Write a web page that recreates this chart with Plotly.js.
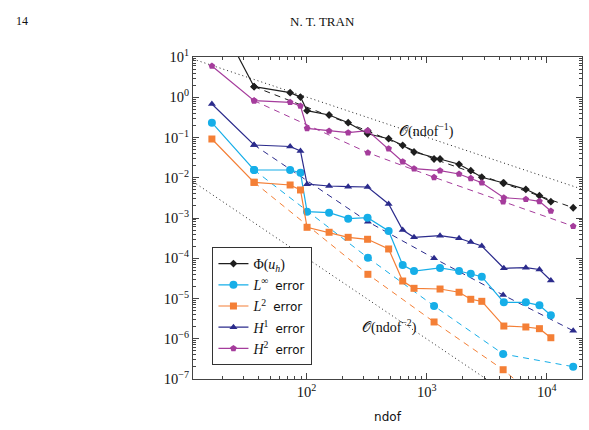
<!DOCTYPE html>
<html>
<head>
<meta charset="utf-8">
<script src="https://cdn.plot.ly/plotly-3.0.1.min.js"></script>
<style>
  html, body { margin: 0; padding: 0; background: #fff; }
  #chart { width: 589px; height: 430px; }
</style>
</head>
<body>
<div id="chart"></div>
<script>
// Adaptive refinement: degrees of freedom and error quantities
const ndofAdaptive = [16.3, 36.6, 73, 89, 101, 154, 222, 322, 482, 631, 784, 1291, 1858, 2326, 2873, 4383, 6683, 8670, 10790];
const phiAdaptive  = [180, 1.83, 1.30, 1.01, 0.463, 0.362, 0.233, 0.124, 0.0933, 0.064, 0.0436, 0.0292, 0.0216, 0.0150, 0.0103, 0.00741, 0.00516, 0.00358, 0.00254];
const linfAdaptive = [0.233, 0.0156, 0.0156, 0.0134, 0.00144, 0.00136, 0.000962, 0.00102, 0.000475, 6.79e-5, 4.82e-5, 5.73e-5, 4.82e-5, 4.13e-5, 3.48e-5, 8.05e-6, 8.05e-6, 6.78e-6, 3.83e-6];
const l2Adaptive   = [0.0918, 0.00771, 0.00661, 0.00497, 0.000587, 0.000442, 0.000331, 0.000296, 0.000170, 2.72e-5, 1.79e-5, 1.72e-5, 1.43e-5, 9.55e-6, 8.51e-6, 2.07e-6, 1.96e-6, 1.78e-6, 1.06e-6];
const h1Adaptive   = [0.679, 0.0652, 0.0597, 0.0462, 0.00692, 0.00624, 0.00600, 0.00589, 0.00223, 0.000504, 0.000331, 0.000363, 0.000313, 0.000254, 0.000202, 5.63e-5, 5.82e-5, 5.25e-5, 2.80e-5];
const h2Adaptive   = [5.97, 0.821, 0.750, 0.607, 0.169, 0.145, 0.132, 0.148, 0.0527, 0.0251, 0.0168, 0.0150, 0.0124, 0.00969, 0.00753, 0.00319, 0.00292, 0.00260, 0.00149];

// Uniform refinement
const ndofUniform = [36.6, 324, 1151, 4325, 16560];
const phiUniform  = [1.83, 0.145, 0.0292, 0.0074, 0.0018];
const linfUniform = [0.0156, 1.03e-4, 6.52e-6, 4.18e-7, 2.02e-7];
const l2Uniform   = [0.00771, 3.99e-5, 2.61e-6, 1.70e-7, 6e-9];
const h1Uniform   = [0.0652, 8.09e-4, 9.97e-5, 1.22e-5, 1.58e-6];
const h2Uniform   = [0.821, 0.0419, 0.01026, 0.00254, 6.25e-4];

// Reference slopes O(ndof^-1) and O(ndof^-2)
const refNdof   = [11.35, 19600];
const refOrder1 = [8.9, 0.0052];
const refOrder2 = [0.0080, 2.5e-9];

// Axis ticks
const xTickVals = [100, 1000, 10000];
const xTickText = ['10<sup>2</sup>', '10<sup>3</sup>', '10<sup>4</sup>'];
const yTickVals = [10, 1, 0.1, 0.01, 1e-3, 1e-4, 1e-5, 1e-6, 1e-7];
const yTickText = ['10<sup>1</sup>', '10<sup>0</sup>', '10<sup>−1</sup>', '10<sup>−2</sup>', '10<sup>−3</sup>',
                   '10<sup>−4</sup>', '10<sup>−5</sup>', '10<sup>−6</sup>', '10<sup>−7</sup>'];

const serif = 'Liberation Serif, DejaVu Serif, serif';
const sans = 'DejaVu Sans, Liberation Sans, sans-serif';

const colors = {
  phi: '#1e1e1e',
  linf: '#16aee8',
  l2: '#f47f36',
  h1: '#2b2b8c',
  h2: '#a53c9c'
};

function minorTicks(lo, hi) {
  const out = [];
  for (let e = lo; e <= hi; e++) {
    for (let m = 2; m <= 9; m++) out.push(m * Math.pow(10, e));
  }
  return out;
}

const err = '<span style="font-family:' + sans + ';font-size:12px">error</span>';
const series = [
  {key: 'phi',  name: 'Φ(<i>u<sub>h</sub></i>)',    a: phiAdaptive,  u: phiUniform,  symbol: 'diamond',     size: 6},
  {key: 'linf', name: '<i>L</i><sup>∞</sup>  ' + err, a: linfAdaptive, u: linfUniform, symbol: 'circle',      size: 8},
  {key: 'l2',   name: '<i>L</i><sup>2</sup>  ' + err, a: l2Adaptive,   u: l2Uniform,   symbol: 'square',      size: 7},
  {key: 'h1',   name: '<i>H</i><sup>1</sup>  ' + err, a: h1Adaptive,   u: h1Uniform,   symbol: 'triangle-up', size: 7},
  {key: 'h2',   name: '<i>H</i><sup>2</sup>  ' + err, a: h2Adaptive,   u: h2Uniform,   symbol: 'pentagon',    size: 7}
];

const traces = [];

// reference slope lines (dotted)
traces.push({x: refNdof, y: refOrder1, mode: 'lines', showlegend: false, hoverinfo: 'skip',
  line: {color: '#222', width: 1, dash: '1px,3px'}});
traces.push({x: refNdof, y: refOrder2, mode: 'lines', showlegend: false, hoverinfo: 'skip',
  line: {color: '#222', width: 1, dash: '1px,3px'}});

// uniform refinement (dashed)
series.forEach(s => {
  traces.push({
    x: ndofUniform, y: s.u, mode: 'lines+markers', showlegend: false,
    line: {color: colors[s.key], width: 1, dash: '6px,5px'},
    marker: {color: colors[s.key], symbol: s.symbol, size: s.size}
  });
});

// adaptive refinement (solid)
series.forEach(s => {
  traces.push({
    x: ndofAdaptive, y: s.a, mode: 'lines+markers', name: s.name,
    line: {color: colors[s.key], width: 1.2},
    marker: {color: colors[s.key], symbol: s.symbol, size: s.size}
  });
});

const layout = {
  width: 589, height: 430,
  margin: {l: 193.3, r: 7.3, t: 57, b: 51},
  paper_bgcolor: '#fff', plot_bgcolor: '#fff',
  showlegend: true,
  legend: {
    x: 0.05, y: 0.41, xanchor: 'left', yanchor: 'top',
    bgcolor: '#fff', bordercolor: '#333', borderwidth: 1,
    font: {family: serif, size: 14, color: '#111'},
    traceorder: 'normal'
  },
  xaxis: {
    type: 'log', range: [Math.log10(11.35), Math.log10(19600)],
    tickmode: 'array', tickvals: xTickVals, ticktext: xTickText,
    ticks: 'inside', ticklen: 6, tickcolor: '#444',
    showline: true, linecolor: '#444', linewidth: 1, mirror: 'allticks',
    showgrid: false, zeroline: false,
    minor: {tickmode: 'array', tickvals: minorTicks(1, 4), ticks: 'inside', ticklen: 3, tickcolor: '#444', showgrid: false},
    tickfont: {family: serif, size: 14.5, color: '#111'},
    title: {text: 'ndof', font: {family: sans, size: 12, color: '#111'}, standoff: 13}
  },
  yaxis: {
    type: 'log', range: [-7, 1],
    tickmode: 'array', tickvals: yTickVals, ticktext: yTickText,
    ticks: 'inside', ticklen: 6, tickcolor: '#444',
    showline: true, linecolor: '#444', linewidth: 1, mirror: 'allticks',
    showgrid: false, zeroline: false,
    minor: {tickmode: 'array', tickvals: minorTicks(-7, 0), ticks: 'inside', ticklen: 3, tickcolor: '#444', showgrid: false},
    tickfont: {family: serif, size: 14.5, color: '#111'}
  },
  annotations: [
    {xref: 'x', yref: 'y', x: 2.994, y: -0.814, text: '𝒪(ndof<sup>−1</sup>)', showarrow: false,
     font: {family: serif, size: 14, color: '#111'}},
    {xref: 'x', yref: 'y', x: 2.694, y: -5.70, text: '𝒪(ndof<sup>−2</sup>)', showarrow: false,
     font: {family: serif, size: 14, color: '#111'}},
    {xref: 'paper', yref: 'paper', x: -0.4614, y: 1.1398, text: '14', showarrow: false,
     font: {family: serif, size: 12, color: '#111'}},
    {xref: 'paper', yref: 'paper', x: 0.334, y: 1.1398, text: 'N. T. TRAN', showarrow: false,
     font: {family: serif, size: 13, color: '#111'}}
  ]
};

Plotly.newPlot('chart', traces, layout, {staticPlot: true, displayModeBar: false});
</script>
</body>
</html>
